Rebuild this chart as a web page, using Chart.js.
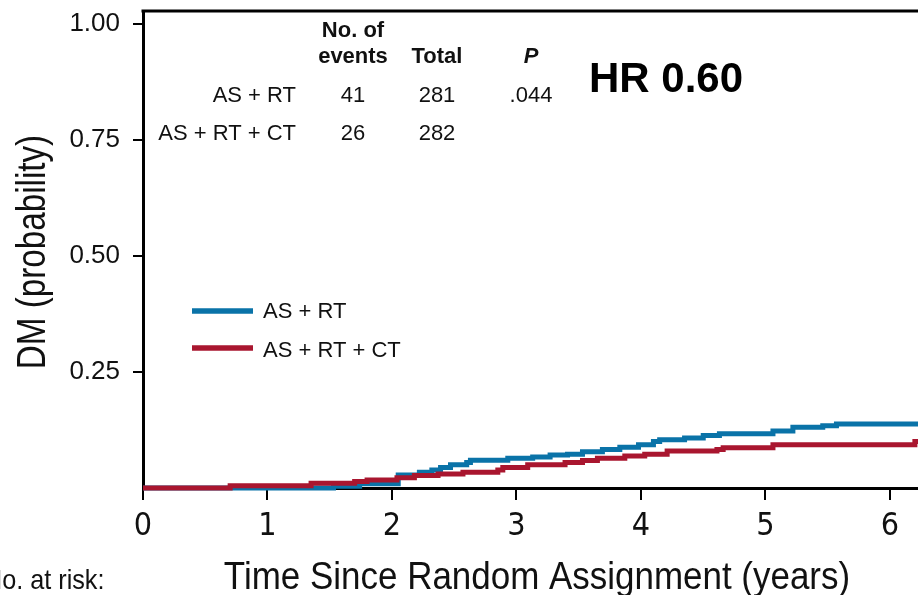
<!DOCTYPE html>
<html>
<head>
<meta charset="utf-8">
<script src="https://cdn.jsdelivr.net/npm/chart.js@4.4.1/dist/chart.umd.min.js"></script>
<style>
  html, body { margin: 0; padding: 0; background: #fff; }
  #wrap { width: 918px; height: 595px; }
</style>
</head>
<body>
<div id="wrap"><canvas id="dmChart" width="918" height="595"></canvas></div>
<script>
// Cumulative incidence of distant metastasis: step points (years, probability)
const asRtTime = [0, 1.53, 1.74, 2.05, 2.22, 2.32, 2.39, 2.47, 2.60, 2.63, 2.93, 3.13, 3.27, 3.41, 3.53, 3.69, 3.83, 3.98, 4.10, 4.15, 4.35, 4.50, 4.63, 5.06, 5.22, 5.46, 5.57, 6.25];
const asRtProb = [0, 0.004, 0.009, 0.028, 0.034, 0.039, 0.044, 0.050, 0.055, 0.060, 0.064, 0.067, 0.071, 0.073, 0.078, 0.083, 0.088, 0.093, 0.100, 0.104, 0.108, 0.113, 0.117, 0.123, 0.131, 0.134, 0.138, 0.138];
const asRtCtTime = [0, 0.70, 1.35, 1.70, 1.80, 2.04, 2.18, 2.37, 2.57, 2.85, 2.89, 3.09, 3.39, 3.53, 3.65, 3.87, 4.03, 4.21, 4.61, 4.66, 5.06, 6.20, 6.25];
const asRtCtProb = [0, 0.005, 0.010, 0.014, 0.017, 0.022, 0.027, 0.030, 0.034, 0.039, 0.044, 0.050, 0.055, 0.059, 0.064, 0.069, 0.073, 0.080, 0.083, 0.087, 0.093, 0.100, 0.100];

const xTickValues = [0, 1, 2, 3, 4, 5, 6];
const yTickValues = [0.25, 0.50, 0.75, 1.00];

// summary table
const groups = ['AS + RT', 'AS + RT + CT'];
const eventCounts = ['41', '26'];
const totals = ['281', '282'];
const pValues = ['.044', ''];
const hrLabel = 'HR 0.60';

const blue = '#0a73a8';
const red = '#a9162f';
const sans = "'Liberation Sans', Arial, Helvetica, sans-serif";
const narrow = "'Liberation Sans Narrow', 'DejaVu Sans Condensed', 'Liberation Sans', sans-serif";

function toPoints(xs, ys) {
  return xs.map((x, i) => ({ x: x, y: ys[i] }));
}

// text squeezed horizontally, optionally rotated
function squeezed(ctx, text, x, y, font, sx, angle, align) {
  ctx.save();
  ctx.translate(x, y);
  if (angle) ctx.rotate(angle);
  ctx.scale(sx, 1);
  ctx.font = font;
  ctx.textAlign = align || 'center';
  ctx.textBaseline = 'alphabetic';
  ctx.fillText(text, 0, 0);
  ctx.restore();
}

const overlay = {
  id: 'overlay',
  afterDraw(chart) {
    const ctx = chart.ctx;
    const a = chart.chartArea;
    ctx.save();

    // top edge of the frame
    ctx.strokeStyle = '#000';
    ctx.lineWidth = 3;
    ctx.beginPath();
    ctx.moveTo(a.left - 1.5, a.top);
    ctx.lineTo(a.right, a.top);
    ctx.stroke();

    ctx.fillStyle = '#111';
    ctx.textBaseline = 'alphabetic';

    // table header
    ctx.font = 'bold 22px ' + sans;
    ctx.textAlign = 'center';
    ctx.fillText('No. of', 353, 37);
    ctx.fillText('events', 353, 63);
    ctx.fillText('Total', 437, 63);
    ctx.font = 'italic bold 22px ' + sans;
    ctx.fillText('P', 531, 63);

    // table rows
    const rowY = [102, 140];
    groups.forEach((g, i) => {
      ctx.font = '22px ' + sans;
      ctx.textAlign = 'right';
      ctx.fillText(g, 296, rowY[i]);
      ctx.textAlign = 'center';
      ctx.font = '22px ' + sans;
      ctx.fillText(eventCounts[i], 353, rowY[i]);
      ctx.fillText(totals[i], 437, rowY[i]);
      if (pValues[i]) ctx.fillText(pValues[i], 531, rowY[i]);
    });

    // hazard ratio
    ctx.fillStyle = '#000';
    ctx.font = 'bold 42px ' + sans;
    ctx.textAlign = 'left';
    ctx.fillText(hrLabel, 589, 92);

    // legend
    const legY = [311, 348];
    const textY = [318, 357];
    chart.data.datasets.forEach((ds, i) => {
      ctx.strokeStyle = ds.borderColor;
      ctx.lineWidth = 5.5;
      ctx.beginPath();
      ctx.moveTo(192, legY[i]);
      ctx.lineTo(253, legY[i]);
      ctx.stroke();
      ctx.fillStyle = '#111';
      ctx.font = '22px ' + sans;
      ctx.textAlign = 'left';
      ctx.fillText(ds.label, 263, textY[i]);
    });

    // axis titles
    ctx.fillStyle = '#111';
    squeezed(ctx, 'DM (probability)', 45, 252, '40px ' + sans, 0.83, -Math.PI / 2, 'center');
    squeezed(ctx, 'Time Since Random Assignment (years)', 537, 589, '38px ' + sans, 0.92, 0, 'center');
    squeezed(ctx, 'No. at risk:', -16, 589, '28px ' + sans, 0.9, 0, 'left');

    ctx.restore();
  }
};

new Chart(document.getElementById('dmChart'), {
  type: 'line',
  data: {
    datasets: [
      {
        label: groups[0],
        data: toPoints(asRtTime, asRtProb),
        borderColor: blue,
        backgroundColor: blue,
        order: 1,
        clip: false
      },
      {
        label: groups[1],
        data: toPoints(asRtCtTime, asRtCtProb),
        borderColor: red,
        backgroundColor: red,
        order: 0,
        clip: false
      }
    ]
  },
  options: {
    responsive: false,
    animation: false,
    layout: { padding: { top: 11, right: 0, bottom: 0, left: 0 } },
    elements: {
      point: { radius: 0, hoverRadius: 0 },
      line: { borderWidth: 5, stepped: 'before', tension: 0, borderCapStyle: 'butt', borderJoinStyle: 'miter', fill: false }
    },
    plugins: {
      legend: { display: false },
      tooltip: { enabled: false },
      title: { display: false }
    },
    scales: {
      x: {
        type: 'linear',
        min: 0,
        max: 6.225,
        afterBuildTicks: s => { s.ticks = xTickValues.map(v => ({ value: v })); },
        afterFit: s => {
          s.height = 107;
          s.paddingLeft = 0;
          s.paddingRight = 0;
        },
        grid: { display: true, drawOnChartArea: false, drawTicks: true, tickLength: 12, color: '#000', lineWidth: 2 },
        border: { display: true, color: '#000', width: 3 },
        ticks: {
          color: '#111',
          font: { family: narrow, size: 32 },
          padding: 7,
          maxRotation: 0,
          autoSkip: false,
          callback: v => String(v)
        }
      },
      y: {
        type: 'linear',
        min: 0,
        max: 1.028,
        afterBuildTicks: s => { s.ticks = yTickValues.map(v => ({ value: v })); },
        afterFit: s => {
          s.width = 143;
          s.paddingTop = 0;
          s.paddingBottom = 0;
        },
        grid: { display: true, drawOnChartArea: false, drawTicks: true, tickLength: 10, color: '#000', lineWidth: 2 },
        border: { display: true, color: '#000', width: 3 },
        ticks: {
          color: '#111',
          font: { family: sans, size: 26 },
          padding: 13,
          callback: v => v.toFixed(2)
        }
      }
    }
  },
  plugins: [overlay]
});
</script>
</body>
</html>
